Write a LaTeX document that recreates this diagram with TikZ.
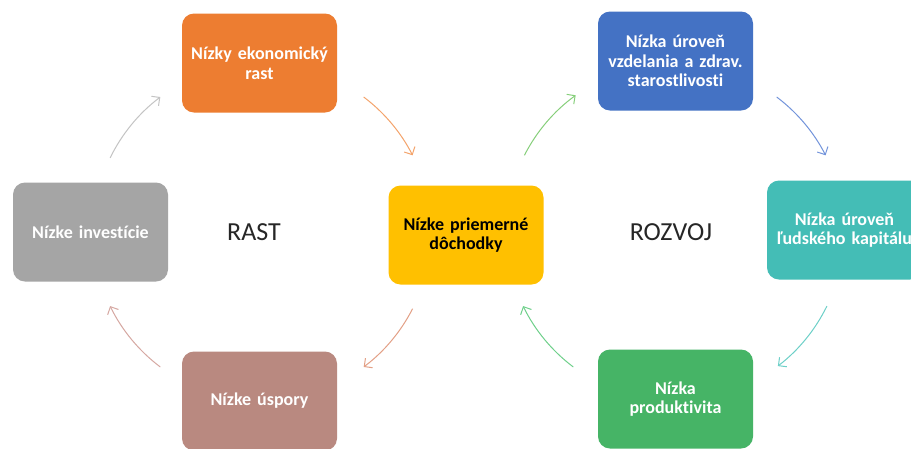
\documentclass[tikz,border=0pt]{standalone}
\usepackage{fontspec}
\setmainfont{Carlito}[Ligatures=NoCommon]
\usetikzlibrary{arrows.meta,calc,positioning}

\definecolor{orangebox}{HTML}{ED7D31}
\definecolor{graybox}{HTML}{A5A5A5}
\definecolor{yellowbox}{HTML}{FFC000}
\definecolor{brownbox}{HTML}{B98980}
\definecolor{bluebox}{HTML}{4472C4}
\definecolor{tealbox}{HTML}{44BDB6}
\definecolor{greenbox}{HTML}{46B466}

\definecolor{orangearr}{HTML}{F4A46C}
\definecolor{grayarr}{HTML}{C4C4C4}
\definecolor{salmonarr}{HTML}{E3A086}
\definecolor{pinkarr}{HTML}{D6A8A2}
\definecolor{greenarr}{HTML}{86CF7A}
\definecolor{bluearr}{HTML}{7394DB}
\definecolor{tealarr}{HTML}{6DD0C8}
\definecolor{mintarr}{HTML}{6FD08B}

\tikzset{
  box/.style={rectangle, rounded corners=12pt, minimum width=155pt,
    minimum height=99pt, text width=160pt, align=center,
    inner xsep=-2.5pt, inner ysep=0pt,
    text=white, font=\bfseries\fontsize{18}{19.5}\selectfont},
  arr/.style={line width=1pt, -{Straight Barb[length=6pt,width=12pt]}},
  cycle label/.style={font=\fontsize{26}{30}\selectfont, text=black!85},
}

\begin{document}
\begin{tikzpicture}[x=1pt,y=-1pt]
    \useasboundingbox[fill=white] (0,0) rectangle (911,448);

      % shared box
      \node[box, fill=yellowbox, text=black] (yellow) at (466,235)
        {Nízke priemerné\\dôchodky};

      % growth cycle
      \node[box, fill=orangebox] (orange) at ($(yellow)+(-206.5,-172)$)
        {Nízky ekonomický\\rast};
      \node[box, fill=brownbox] (brown) at ($(yellow)+(-206.5,166)$)
        {Nízke úspory};
      \node[box, fill=graybox] (gray) at ($(yellow)+(-375.5,-3)$)
        {Nízke investície};

      % development cycle
      \node[box, fill=bluebox] (blue) at ($(yellow)+(209.5,-174)$)
        {Nízka úroveň\\vzdelania a zdrav.\\starostlivosti};
      \node[box, fill=tealbox] (teal) at ($(yellow)+(378.5,-5)$)
        {Nízka úroveň\\ľudského kapitálu};
      \node[box, fill=greenbox] (green) at ($(yellow)+(209.5,164)$)
        {Nízka\\produktivita};

      \coordinate (gc) at (262,232);
      \coordinate (dc) at (675,232);
      \node[cycle label] (rast) at (254,232) {RAST};
      \node[cycle label] (rozvoj) at (671,232) {ROZVOJ};

      % arcs of the growth cycle
      \draw[arr, grayarr] ([shift={(-154:169)}]gc) arc[start angle=-154, end angle=-127, radius=169];
      \draw[arr, orangearr] ([shift={(-53:169)}]gc) arc[start angle=-53, end angle=-27, radius=169];
      \draw[arr, salmonarr] ([shift={(27:169)}]gc) arc[start angle=27, end angle=53, radius=169];
      \draw[arr, pinkarr] ([shift={(127:169)}]gc) arc[start angle=127, end angle=154, radius=169];

      % arcs of the development cycle
      \draw[arr, greenarr] ([shift={(-153:169)}]dc) arc[start angle=-153, end angle=-126, radius=169];
      \draw[arr, bluearr] ([shift={(-53:169)}]dc) arc[start angle=-53, end angle=-27, radius=169];
      \draw[arr, tealarr] ([shift={(26:169)}]dc) arc[start angle=26, end angle=52.5, radius=169];
      \draw[arr, mintarr] ([shift={(127:169)}]dc) arc[start angle=127, end angle=154, radius=169];
\end{tikzpicture}
\end{document}
